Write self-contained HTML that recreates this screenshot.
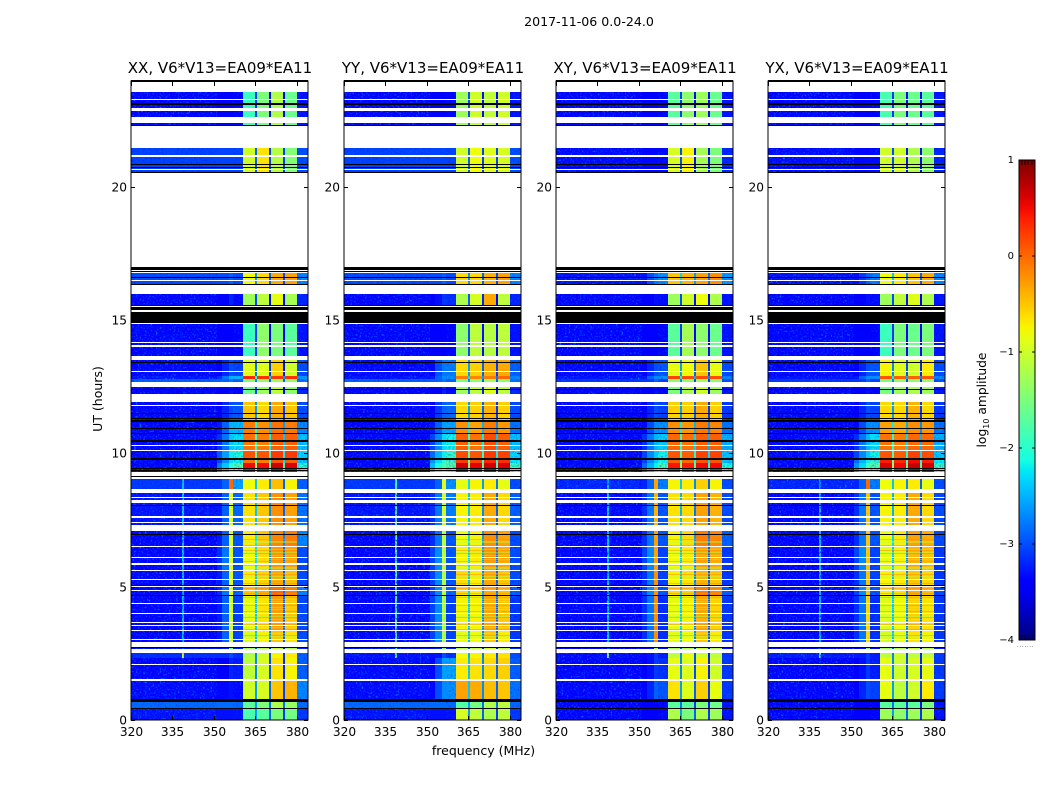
<!DOCTYPE html>
<html lang="en">
<head>
<meta charset="utf-8">
<title>2017-11-06 spectrogram</title>
<style>
html,body{margin:0;padding:0;background:#fff;}
svg{display:block;}
text{font-family:"DejaVu Sans","Liberation Sans",sans-serif;fill:#000;}
</style>
</head>
<body>
<svg id="figure" xmlns="http://www.w3.org/2000/svg" width="1050" height="800" viewBox="0 0 1050 800">
<defs>
<filter id="speckle" x="0" y="0" width="100%" height="100%" color-interpolation-filters="sRGB">
<feTurbulence type="fractalNoise" baseFrequency="0.55" numOctaves="1" seed="7"/>
<feColorMatrix type="matrix" values="0 0 0 0 0  1.8 0 0 0 -0.7  1.2 0 0 0 0.5  0 3.6 0 0 -1.5"/>
</filter>
<linearGradient id="cb-gradient" x1="0" y1="1" x2="0" y2="0"></linearGradient>
</defs>
<text x="589" y="26" font-size="12.6" text-anchor="middle">2017-11-06 0.0-24.0</text>
<text x="483.5" y="755" font-size="12.5" text-anchor="middle">frequency (MHz)</text>
<text x="0" y="0" font-size="12.5" text-anchor="middle" transform="translate(102,399) rotate(-90)">UT (hours)</text>
<g id="panels"></g>
<g id="colorbar"></g>
<text x="0" y="0" font-size="12.3" text-anchor="middle" transform="translate(986,400) rotate(-90)">log<tspan font-size="8" dy="3">10</tspan><tspan dy="-3"> amplitude</tspan></text>
</svg>
<script>
// ---------- chart data ----------
const polarisations = ['XX', 'YY', 'XY', 'YX'];
const baselineLabel = ', V6*V13=EA09*EA11';
const freqTicks = [320, 335, 350, 365, 380];
const utTicks = [0, 5, 10, 15, 20];
const colorbarTicks = [1, 0, -1, -2, -3, -4];
// Frequency bin edges in MHz
const freqEdges = [320, 338.5, 339.3, 351, 353, 355.5, 356.8, 360.4, 365, 365.7, 370, 370.7, 375, 375.6, 380, 384];
// Which spectral level each frequency bin reads
const binLevel = [0, 1, 0, 2, 2, 3, 4, 5, 10, 6, 10, 7, 10, 8, 9];
// Amplitude difference of each bin from its level (wing roll-off, depth of each band gap)
const binOffset = [0, 0, 0, -0.45, -0.1, 0, -0.25, 0, -0.1, 0, -0.4, 0, -0.6, 0, 0];
// UT extents of the spectral sections (hours)
const sectionUtTop = [23.55, 21.45, 16.76, 15.98, 14.85, 13.50, 12.90, 12.80, 12.49, 11.93, 11.25, 10.72, 10.10, 9.82, 9.64, 9.04, 8.50, 7.08, 6.49, 5.59, 5.03, 4.66, 3.36, 2.74, 2.51, 2.33, 1.47, 0.79, 0.41];
const sectionUtBottom = [22.28, 20.53, 16.33, 15.54, 13.65, 12.90, 12.80, 12.69, 12.24, 11.25, 10.72, 10.10, 9.82, 9.64, 9.31, 8.65, 7.30, 6.49, 5.59, 5.03, 4.66, 3.36, 2.94, 2.66, 2.33, 1.47, 0.79, 0.41, 0];
// log10 amplitude per section: background, tone, wing, spike, post, band1, band2, band3, band4, tail, band gap
const xxLevels = [
[-3.4,-3.4,-3.4,-3.4,-3.4,-1.9,-1.5,-1.2,-1.6,-3.3,-3.0],
[-3.05,-3.05,-3.05,-3.05,-3.05,-1.0,-0.65,-1.15,-1.45,-3.0,-2.8],
[-3.0,-3.0,-2.95,-2.9,-2.8,-0.8,-0.6,-0.35,-0.3,-2.7,-2.5],
[-3.4,-3.4,-3.3,-3.2,-3.1,-1.3,-1.1,-0.85,-1.25,-3.2,-2.9],
[-3.45,-3.45,-3.45,-3.45,-3.4,-1.9,-1.4,-1.5,-1.7,-3.3,-3.0],
[-3.4,-3.4,-3.1,-3.0,-2.8,-0.9,-0.9,-0.55,-1.0,-3.0,-2.7],
[-3.3,-3.3,-2.7,-2.5,-2.2,0.35,0.3,0.25,0.3,-2.6,-2.0],
[-2.9,-2.9,-2.8,-2.8,-2.7,-1.5,-1.4,-1.3,-1.4,-2.8,-2.6],
[-3.4,-3.4,-3.3,-3.3,-3.2,-1.6,-1.3,-1.1,-1.4,-3.2,-2.9],
[-3.45,-3.45,-3.1,-3.0,-2.7,-0.5,-0.6,-0.35,-0.5,-3.0,-2.5],
[-3.45,-3.45,-2.8,-2.5,-2.2,-0.1,-0.2,-0.05,-0.1,-2.7,-2.0],
[-3.45,-3.45,-2.7,-2.4,-2.0,-0.05,-0.1,0.05,0.05,-2.4,-1.8],
[-3.45,-3.45,-2.5,-2.2,-1.8,0.1,0.1,0.25,0.25,-2.3,-1.6],
[-3.45,-3.45,-2.6,-2.3,-1.9,-0.05,-0.1,0.1,0.05,-2.4,-1.7],
[-3.45,-3.45,-2.3,-2.0,-1.5,0.5,0.5,0.65,0.6,-2.0,-1.3],
[-3.1,-2.4,-2.8,0.0,-2.3,-0.8,-0.7,-0.45,-0.75,-2.9,-2.3],
[-3.3,-2.3,-2.8,-0.9,-2.6,-0.65,-0.5,-0.2,-0.3,-2.8,-2.3],
[-3.4,-2.4,-2.8,-0.9,-2.7,-0.7,-0.5,-0.15,-0.1,-2.7,-2.1],
[-3.4,-2.4,-2.7,-0.9,-2.7,-0.8,-0.6,-0.25,-0.3,-3.0,-2.2],
[-3.45,-2.4,-2.8,-0.9,-2.7,-0.7,-0.55,-0.35,-0.45,-3.0,-2.3],
[-3.4,-2.5,-2.7,-0.8,-2.6,-0.5,-0.35,0.0,-0.1,-2.7,-2.2],
[-3.45,-2.4,-2.8,-1.0,-2.8,-0.85,-0.65,-0.3,-0.5,-3.0,-2.3],
[-3.45,-2.4,-2.8,-1.0,-2.8,-0.9,-0.75,-0.5,-0.65,-3.0,-2.3],
[-3.3,-3.0,-3.1,-1.5,-3.0,-1.3,-1.2,-1.1,-1.2,-3.2,-2.8],
[-3.15,-1.0,-3.1,-3.0,-2.9,-1.2,-1.0,-0.75,-0.7,-2.9,-2.6],
[-3.4,-3.3,-3.3,-3.2,-3.0,-1.1,-0.95,-0.65,-0.75,-2.9,-2.6],
[-3.35,-3.35,-3.3,-3.3,-3.2,-1.0,-0.95,-0.5,-0.4,-2.7,-2.5],
[-2.85,-2.85,-2.85,-2.85,-2.85,-1.7,-1.5,-1.2,-1.35,-2.9,-2.5],
[-3.3,-3.3,-3.3,-3.3,-3.3,-1.8,-1.7,-1.5,-1.55,-3.1,-2.5]
];
const yyLevels = [
[-3.4,-3.4,-3.4,-3.4,-3.4,-1.3,-1.0,-1.1,-1.0,-3.3,-2.9],
[-3.05,-3.05,-3.05,-3.05,-3.05,-1.0,-0.8,-0.9,-0.95,-3.0,-2.8],
[-3.0,-3.0,-2.95,-2.9,-2.8,-0.6,-0.6,-0.4,-0.3,-2.7,-2.5],
[-3.4,-3.4,-3.2,-3.1,-2.9,-1.2,-0.95,-0.35,-1.1,-3.2,-2.8],
[-3.45,-3.45,-3.45,-3.45,-3.4,-1.4,-1.1,-1.15,-1.1,-3.3,-2.9],
[-3.4,-3.4,-2.9,-2.8,-2.5,-0.6,-0.55,-0.4,-0.35,-2.9,-2.5],
[-3.3,-3.3,-2.8,-2.7,-2.4,-0.1,-0.15,-0.1,0.0,-2.7,-2.2],
[-2.9,-2.9,-2.8,-2.8,-2.7,-1.5,-1.4,-1.3,-1.4,-2.8,-2.6],
[-3.4,-3.4,-3.3,-3.2,-3.1,-1.3,-1.1,-0.9,-1.1,-3.2,-2.8],
[-3.45,-3.45,-3.0,-2.9,-2.6,-0.6,-0.55,-0.4,-0.55,-3.0,-2.5],
[-3.45,-3.45,-2.8,-2.6,-2.3,-0.2,-0.3,-0.1,-0.25,-2.8,-2.1],
[-3.45,-3.45,-2.6,-2.3,-1.9,0.05,-0.05,0.15,0.05,-2.4,-1.8],
[-3.45,-3.45,-2.4,-2.2,-1.7,0.15,0.1,0.25,0.2,-2.3,-1.6],
[-3.45,-3.45,-2.2,-2.0,-1.6,0.25,0.2,0.35,0.3,-2.2,-1.5],
[-3.45,-3.45,-2.0,-1.8,-1.5,0.65,0.55,0.65,0.6,-1.9,-1.3],
[-3.1,-1.8,-2.8,-0.9,-2.4,-0.85,-0.75,-0.7,-0.85,-3.0,-2.2],
[-3.3,-1.7,-2.7,-1.0,-2.5,-0.75,-0.7,-0.35,-0.6,-2.9,-2.3],
[-3.4,-1.7,-2.7,-1.1,-2.7,-0.8,-0.75,-0.2,-0.3,-3.0,-2.2],
[-3.4,-1.7,-2.6,-1.1,-2.7,-0.75,-0.7,-0.25,-0.35,-3.0,-2.2],
[-3.45,-1.7,-2.6,-1.2,-2.7,-0.6,-0.7,-0.35,-0.5,-3.0,-2.3],
[-3.4,-1.8,-2.6,-1.1,-2.6,-0.6,-0.7,-0.35,-0.45,-2.9,-2.2],
[-3.45,-1.7,-2.6,-1.2,-2.8,-0.75,-0.75,-0.35,-0.5,-3.1,-2.3],
[-3.45,-1.7,-2.6,-1.2,-2.8,-0.85,-0.8,-0.5,-0.7,-3.1,-2.3],
[-3.3,-2.0,-3.1,-1.5,-3.0,-1.2,-1.1,-1.0,-1.1,-3.2,-2.8],
[-3.3,-1.6,-3.2,-3.0,-2.9,-0.8,-0.75,-0.7,-0.65,-3.0,-2.4],
[-3.35,-3.35,-2.9,-2.6,-2.3,-0.7,-0.65,-0.6,-0.55,-2.9,-2.3],
[-3.35,-3.35,-2.9,-2.7,-2.4,-0.3,-0.35,-0.45,-0.5,-2.8,-2.3],
[-2.85,-2.85,-2.85,-2.85,-2.85,-1.75,-1.55,-1.2,-1.1,-2.9,-2.5],
[-3.3,-3.3,-3.3,-3.3,-3.2,-0.95,-1.1,-1.2,-1.1,-3.1,-2.5]
];
const xyLevels = [
[-3.45,-3.45,-3.45,-3.45,-3.45,-1.7,-1.4,-1.3,-1.6,-3.3,-3.0],
[-3.35,-3.35,-3.35,-3.35,-3.35,-0.95,-0.75,-1.25,-1.5,-3.2,-2.9],
[-3.3,-3.3,-2.9,-2.8,-2.4,-0.5,-0.4,-0.3,-0.2,-2.6,-2.2],
[-3.45,-3.45,-3.4,-3.3,-3.1,-1.3,-1.0,-0.8,-1.2,-3.3,-2.9],
[-3.45,-3.45,-3.45,-3.45,-3.4,-1.7,-1.25,-1.4,-1.6,-3.3,-3.0],
[-3.4,-3.4,-3.1,-3.0,-2.7,-0.85,-0.8,-0.5,-0.85,-3.0,-2.5],
[-3.3,-3.3,-2.8,-2.7,-2.4,0.2,0.15,0.15,0.15,-2.7,-2.1],
[-3.1,-3.1,-3.0,-2.9,-2.8,-1.4,-1.4,-1.3,-1.4,-3.0,-2.6],
[-3.45,-3.45,-3.4,-3.3,-3.2,-1.5,-1.2,-1.0,-1.3,-3.3,-2.9],
[-3.45,-3.45,-3.1,-3.0,-2.8,-0.55,-0.55,-0.35,-0.55,-3.1,-2.5],
[-3.45,-3.45,-2.9,-2.7,-2.4,-0.2,-0.25,-0.1,-0.15,-2.8,-2.1],
[-3.45,-3.45,-2.7,-2.5,-2.1,0.0,-0.05,0.05,0.05,-2.5,-1.9],
[-3.45,-3.45,-2.6,-2.4,-1.9,0.1,0.05,0.2,0.2,-2.4,-1.7],
[-3.45,-3.45,-2.6,-2.4,-1.9,0.05,0.0,0.1,0.1,-2.4,-1.7],
[-3.45,-3.45,-2.4,-2.2,-1.6,0.45,0.4,0.5,0.5,-2.1,-1.4],
[-3.2,-2.4,-2.8,-0.3,-2.5,-0.75,-0.7,-0.55,-0.75,-3.0,-2.3],
[-3.4,-2.3,-2.7,-0.4,-2.7,-0.65,-0.6,-0.3,-0.4,-3.0,-2.4],
[-3.45,-2.3,-2.7,-0.3,-2.7,-0.75,-0.6,-0.1,-0.15,-2.9,-2.2],
[-3.45,-2.3,-2.6,-0.3,-2.8,-0.8,-0.7,-0.3,-0.35,-3.1,-2.3],
[-3.45,-2.3,-2.7,-0.2,-2.8,-0.75,-0.65,-0.4,-0.5,-3.1,-2.3],
[-3.45,-2.4,-2.6,-0.2,-2.7,-0.6,-0.55,-0.1,-0.15,-2.9,-2.3],
[-3.45,-2.3,-2.7,-0.2,-2.9,-0.85,-0.75,-0.35,-0.55,-3.1,-2.3],
[-3.45,-2.3,-2.7,-0.2,-2.9,-0.85,-0.8,-0.5,-0.7,-3.1,-2.3],
[-3.4,-3.0,-3.2,-1.3,-3.1,-1.3,-1.2,-1.1,-1.2,-3.3,-2.8],
[-3.35,-1.5,-3.2,-3.1,-3.0,-1.1,-0.85,-1.0,-1.1,-3.1,-2.6],
[-3.45,-3.4,-3.2,-3.1,-2.9,-0.85,-0.9,-0.75,-1.0,-3.1,-2.6],
[-3.45,-3.45,-3.1,-2.9,-2.7,-0.65,-0.9,-0.55,-0.85,-3.1,-2.5],
[-3.4,-3.4,-3.4,-3.4,-3.4,-1.7,-1.7,-1.5,-1.6,-3.3,-2.7],
[-3.4,-3.4,-3.4,-3.4,-3.4,-1.2,-1.5,-1.2,-1.3,-3.3,-2.5]
];
const yxLevels = [
[-3.45,-3.45,-3.45,-3.45,-3.45,-1.8,-1.5,-1.6,-1.7,-3.3,-3.0],
[-3.35,-3.35,-3.35,-3.35,-3.35,-1.0,-1.0,-1.2,-1.4,-3.2,-2.9],
[-3.3,-3.3,-3.0,-2.9,-2.5,-0.8,-0.7,-0.5,-0.35,-2.7,-2.3],
[-3.45,-3.45,-3.4,-3.3,-3.1,-1.3,-1.1,-0.9,-1.2,-3.3,-2.9],
[-3.45,-3.45,-3.45,-3.45,-3.4,-1.9,-1.5,-1.6,-1.5,-3.3,-3.0],
[-3.4,-3.4,-3.1,-3.0,-2.7,-0.75,-0.9,-1.0,-0.7,-3.0,-2.6],
[-3.3,-3.3,-2.8,-2.7,-2.4,0.1,0.05,0.05,0.1,-2.7,-2.1],
[-3.1,-3.1,-3.0,-2.9,-2.8,-1.5,-1.4,-1.4,-1.4,-3.0,-2.6],
[-3.45,-3.45,-3.4,-3.3,-3.2,-1.5,-1.3,-1.2,-1.3,-3.3,-2.9],
[-3.45,-3.45,-3.1,-3.0,-2.8,-0.6,-0.6,-0.4,-0.6,-3.1,-2.5],
[-3.45,-3.45,-2.9,-2.7,-2.4,-0.3,-0.35,-0.2,-0.25,-2.8,-2.1],
[-3.45,-3.45,-2.7,-2.5,-2.0,-0.05,-0.1,0.0,0.0,-2.5,-1.9],
[-3.45,-3.45,-2.6,-2.4,-1.9,0.1,0.05,0.2,0.15,-2.4,-1.7],
[-3.45,-3.45,-2.4,-2.2,-1.7,0.4,0.35,0.5,0.4,-2.2,-1.5],
[-3.45,-3.45,-2.2,-1.9,-1.5,0.6,0.5,0.7,0.65,-1.9,-1.3],
[-3.2,-2.6,-2.8,0.0,-2.5,-0.8,-0.75,-0.7,-0.85,-3.0,-2.3],
[-3.4,-2.4,-2.7,-0.5,-2.7,-0.75,-0.7,-0.35,-0.6,-3.0,-2.4],
[-3.45,-2.4,-2.7,-0.5,-2.7,-0.8,-0.7,-0.3,-0.35,-3.0,-2.2],
[-3.45,-2.4,-2.6,-0.5,-2.8,-0.85,-0.75,-0.4,-0.45,-3.1,-2.3],
[-3.45,-2.4,-2.7,-0.5,-2.8,-0.75,-0.7,-0.5,-0.6,-3.1,-2.3],
[-3.45,-2.4,-2.6,-0.5,-2.7,-0.7,-0.65,-0.35,-0.45,-3.0,-2.3],
[-3.45,-2.4,-2.7,-0.6,-2.9,-0.9,-0.8,-0.55,-0.65,-3.1,-2.3],
[-3.45,-2.4,-2.7,-0.6,-2.9,-0.95,-0.85,-0.65,-0.75,-3.1,-2.3],
[-3.4,-3.0,-3.2,-1.4,-3.1,-1.3,-1.2,-1.1,-1.2,-3.3,-2.8],
[-3.25,-1.7,-3.2,-3.1,-3.0,-1.1,-1.0,-1.1,-1.1,-3.1,-2.6],
[-3.4,-3.35,-3.2,-3.1,-3.0,-0.85,-1.0,-0.95,-0.85,-3.1,-2.6],
[-3.4,-3.4,-3.1,-3.0,-2.8,-0.85,-1.1,-1.0,-0.7,-3.1,-2.5],
[-3.4,-3.4,-3.4,-3.4,-3.4,-1.7,-1.7,-1.7,-1.5,-3.3,-2.7],
[-3.4,-3.4,-3.4,-3.4,-3.4,-1.3,-1.4,-1.3,-1.2,-3.3,-2.5]
];
const panelLevels = [xxLevels, yyLevels, xyLevels, yxLevels];
// Blank (no data) and flagged (black) integration rows, as [top, bottom] UT hours
const blankRows = [[23.27,23.23],[22.95,22.84],[22.61,22.39],[21.17,21.11],[20.66,20.63],[16.50,16.46],[14.16,14.13],[14.05,13.99],[13.09,13.05],[11.81,11.78],[10.32,10.29],[10.11,10.08],[8.37,8.34],[8.25,8.13],[7.65,7.59],[7.43,7.39],[6.53,6.49],[6.11,6.08],[5.89,5.82],[5.63,5.59],[5.28,5.24],[5.03,4.99],[4.88,4.84],[4.39,4.35],[4.00,3.96],[3.68,3.64],[3.56,3.53],[3.36,3.31],[3.04,2.99],[2.10,2.06],[1.53,1.47]];
const flaggedRows = [[23.12,23.06],[22.31,22.28],[20.85,20.81],[20.72,20.67],[20.56,20.53],[16.99,16.89],[16.85,16.80],[16.60,16.56],[16.35,16.31],[15.57,15.54],[15.49,15.38],[15.30,14.90],[13.43,13.40],[12.43,12.41],[11.50,11.48],[11.34,11.30],[11.26,11.19],[10.96,10.94],[10.75,10.71],[10.50,10.44],[9.84,9.78],[9.44,9.40],[9.39,9.37],[9.16,9.12],[8.06,8.04],[6.96,6.94],[5.06,5.04],[4.69,4.66],[2.74,2.70],[0.79,0.69],[0.44,0.41]];
// Hours at which the band rows dip or peak in amplitude (horizontal striping)
const stripeUts = [6.72,6.66,6.40,6.30,6.20,6.02,5.95,5.75,5.70,5.50,5.40,5.30,4.55,4.45,4.25,4.15,3.90,3.80,3.72,3.48,3.25,3.15];
const peakUts = [6.80,6.56,6.36,6.25,5.98,5.80,5.46,5.12,4.95,4.78,4.60,4.30,4.10,3.85,3.60,3.42,3.20];

// ---------- scales ----------
const SVGNS = 'http://www.w3.org/2000/svg';
const panelLefts = [131, 344, 556, 768];
const panelWidth = 177;
const plotTop = 80;
const plotBottom = 720;
const frameTopY = 81;
const freqMin = 320;
const freqMax = 384;
const utMax = 24;
const amplitudeMin = -4;
const amplitudeMax = 1;
const cbLeft = 1019;
const cbRight = 1035;
const cbTop = 160;
const cbBottom = 640;
const noiseEdgeFreq = 351;
const postStartFreq = 356.8;
const bandStartFreq = 360.4;
const bandEndFreq = 380;

function xScale(left, f) { return left + (f - freqMin) / (freqMax - freqMin) * panelWidth; }
function yScale(h) { return plotBottom - h / utMax * (plotBottom - plotTop); }
function cbScale(v) { return cbBottom - (v - amplitudeMin) / (amplitudeMax - amplitudeMin) * (cbBottom - cbTop); }
function clamp01(v) { return Math.max(0, Math.min(1, v)); }
function jet(t) {
  const r = clamp01(t < 0.35 ? 0 : t < 0.66 ? (t - 0.35) / 0.31 : t < 0.89 ? 1 : 1 - (t - 0.89) / 0.11 * 0.5);
  const g = clamp01(t < 0.125 ? 0 : t < 0.375 ? (t - 0.125) / 0.25 : t < 0.64 ? 1 : t < 0.91 ? 1 - (t - 0.64) / 0.27 : 0);
  const b = clamp01(t < 0.11 ? 0.5 + t / 0.11 * 0.5 : t < 0.34 ? 1 : t < 0.65 ? 1 - (t - 0.34) / 0.31 : 0);
  return 'rgb(' + Math.round(r * 255) + ',' + Math.round(g * 255) + ',' + Math.round(b * 255) + ')';
}
function amplitudeColor(v) { return jet((v - amplitudeMin) / (amplitudeMax - amplitudeMin)); }
function make(tag, attrs, parent) {
  const el = document.createElementNS(SVGNS, tag);
  for (const k in attrs) el.setAttribute(k, attrs[k]);
  parent.appendChild(el);
  return el;
}

// ---------- panels ----------
const panelsGroup = document.getElementById('panels');
polarisations.forEach(function (pol, p) {
  const left = panelLefts[p];
  const levels = panelLevels[p];
  const panel = make('g', {}, panelsGroup);
  
  

  sectionUtTop.forEach(function (top, s) {
    const y0 = Math.round(yScale(top));
    const y1 = Math.round(yScale(sectionUtBottom[s]));
    const background = levels[s][0];
    for (let b = 0; b < binLevel.length; b++) {
      const x0 = Math.round(xScale(left, freqEdges[b]));
      const x1 = Math.round(xScale(left, freqEdges[b + 1]));
      const value = Math.max(background, levels[s][binLevel[b]] + binOffset[b]);
      const cell = make('rect', { x: x0, y: y0, width: x1 - x0, height: y1 - y0, fill: amplitudeColor(value), 'shape-rendering': 'crispEdges' }, panel);
      
      
    }
    const bgNoise = background > -3.2 ? 0.3 : 0.7;
    const noiseA = make('rect', { x: left, y: y0, width: Math.round(xScale(left, noiseEdgeFreq)) - left, height: y1 - y0, fill: '#000', filter: 'url(#speckle)', opacity: bgNoise }, panel);
    
    
    const noiseC = make('rect', { x: Math.round(xScale(left, postStartFreq)), y: y0, width: Math.round(xScale(left, bandStartFreq)) - Math.round(xScale(left, postStartFreq)), height: y1 - y0, fill: '#000', filter: 'url(#speckle)', opacity: 0.3 }, panel);
    
    
    const noiseB = make('rect', { x: Math.round(xScale(left, bandEndFreq)), y: y0, width: left + panelWidth - Math.round(xScale(left, bandEndFreq)), height: y1 - y0, fill: '#000', filter: 'url(#speckle)', opacity: 0.3 }, panel);
    
    
  });

  stripeUts.forEach(function (h) {
    const stripe = make('rect', { x: Math.round(xScale(left, bandStartFreq)), y: Math.round(yScale(h)), width: Math.round(xScale(left, bandEndFreq)) - Math.round(xScale(left, bandStartFreq)), height: 1, fill: '#b4ff50', opacity: 0.45, 'shape-rendering': 'crispEdges' }, panel);
    
    
  });
  peakUts.forEach(function (h) {
    const peak = make('rect', { x: Math.round(xScale(left, bandStartFreq)), y: Math.round(yScale(h)), width: Math.round(xScale(left, bandEndFreq)) - Math.round(xScale(left, bandStartFreq)), height: 1, fill: '#ff8a00', opacity: 0.5, 'shape-rendering': 'crispEdges' }, panel);
    
    
  });

  blankRows.forEach(function (row) {
    const blank = make('rect', { x: left, y: Math.round(yScale(row[0])), width: panelWidth, height: Math.max(1, Math.round(yScale(row[1]) - yScale(row[0]))), fill: '#fff', 'shape-rendering': 'crispEdges' }, panel);
    
    
  });
  flaggedRows.forEach(function (row) {
    const flagged = make('rect', { x: left, y: Math.round(yScale(row[0])), width: panelWidth, height: Math.max(1, Math.round(yScale(row[1]) - yScale(row[0]))), fill: '#000', 'shape-rendering': 'crispEdges' }, panel);
    
    
  });

  const frame = make('rect', { x: left, y: frameTopY, width: panelWidth, height: plotBottom - frameTopY, fill: 'none', stroke: '#000', 'stroke-width': 1 }, panel);
  
  
  const frameTop = make('line', { x1: left, x2: left + panelWidth, y1: frameTopY, y2: frameTopY, stroke: '#000', 'stroke-width': 2 }, panel);
  
  

  freqTicks.forEach(function (f) {
    const x = Math.round(xScale(left, f)) + 0.5;
    const tickB = make('line', { x1: x, x2: x, y1: plotBottom, y2: plotBottom - 4, stroke: '#000', 'stroke-width': 1 }, panel);
    
    
    const tickT = make('line', { x1: x, x2: x, y1: frameTopY, y2: frameTopY + 5, stroke: '#000', 'stroke-width': 1 }, panel);
    
    
    const label = make('text', { x: x, y: 736, 'font-size': 12.2, 'text-anchor': 'middle' }, panel);
    label.textContent = String(f);
    
    
  });
  utTicks.forEach(function (h) {
    const y = Math.round(yScale(h)) + 0.5;
    const tickL = make('line', { x1: left, x2: left + 4, y1: y, y2: y, stroke: '#000', 'stroke-width': 1 }, panel);
    
    
    const tickR = make('line', { x1: left + panelWidth, x2: left + panelWidth - 4, y1: y, y2: y, stroke: '#000', 'stroke-width': 1 }, panel);
    
    
    const label = make('text', { x: left - 4, y: y + 4, 'font-size': 12.2, 'text-anchor': 'end' }, panel);
    label.textContent = String(h);
    
    
  });

  const title = make('text', { x: left + panelWidth / 2 + 0.5, y: 73, 'font-size': 15, 'text-anchor': 'middle' }, panel);
  title.textContent = pol + baselineLabel;
  
  
});

// ---------- colorbar ----------
const cbGroup = document.getElementById('colorbar');
const gradient = document.getElementById('cb-gradient');
for (let i = 0; i <= 40; i++) {
  make('stop', { offset: (i / 40 * 100) + '%', 'stop-color': jet(i / 40) }, gradient);
}
const cbFill = make('rect', { x: cbLeft, y: cbTop, width: cbRight - cbLeft, height: cbBottom - cbTop, fill: 'url(#cb-gradient)', stroke: '#000', 'stroke-width': 1 }, cbGroup);


colorbarTicks.forEach(function (v) {
  const y = cbScale(v);
  const tickL = make('line', { x1: cbLeft, x2: cbLeft + 3, y1: y, y2: y, stroke: '#000', 'stroke-width': 1 }, cbGroup);
  
  
  const tickR = make('line', { x1: cbRight, x2: cbRight - 3, y1: y, y2: y, stroke: '#000', 'stroke-width': 1 }, cbGroup);
  
  
  const label = make('text', { x: 1014, y: y + 3, 'font-size': 10, 'text-anchor': 'end' }, cbGroup);
  label.textContent = v < 0 ? '\u2212' + Math.abs(v) : String(v);
  
  
});
[1022, 1025, 1028, 1032].forEach(function (x) {
  const upper = make('line', { x1: x, x2: x, y1: cbTop, y2: cbTop + 5, stroke: '#000', 'stroke-width': 0.8 }, cbGroup);
  
  
  const lower = make('line', { x1: x, x2: x, y1: cbBottom, y2: cbBottom - 5, stroke: '#000', 'stroke-width': 0.8 }, cbGroup);
  
  
});
const dots = make('text', { x: 1017, y: 647, 'font-size': 5, 'letter-spacing': 0.9, fill: '#555' }, cbGroup);
dots.textContent = '.......';


</script>
</body>
</html>
